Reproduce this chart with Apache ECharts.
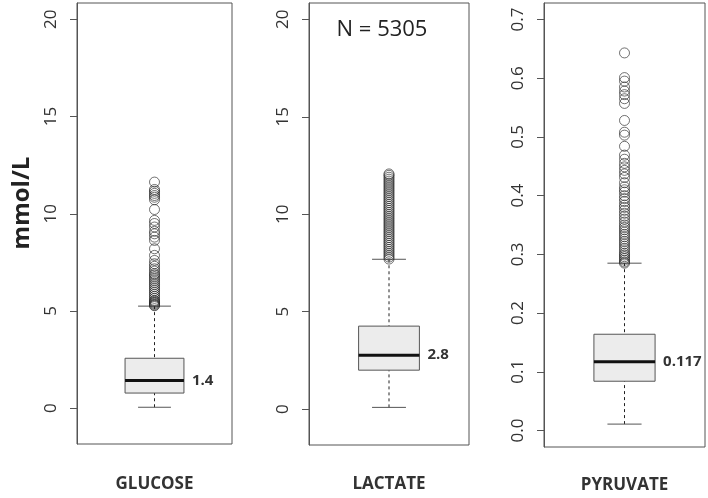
<!DOCTYPE html>
<html><head><meta charset="utf-8">
<script src="https://cdn.jsdelivr.net/npm/echarts@6/dist/echarts.min.js"></script>
<style>html,body{margin:0;padding:0;background:#fff}#c{width:708px;height:498px}</style>
</head><body><div id="c"></div>
<script>
// ---- data ----
const categories = ['GLUCOSE', 'LACTATE', 'PYRUVATE'];
// [min whisker, Q1, median, Q3, max whisker]
const glucoseBox = [0.05, 0.78, 1.42, 2.57, 5.25];
const lactateBox = [0.09, 2.0, 2.77, 4.26, 7.69];
const pyruvateBox = [0.011, 0.084, 0.117, 0.164, 0.285];
const medianLabels = ['1.4', '2.8', '0.117'];
const glucoseOutliers = [11.63, 11.25, 11.16, 11.05, 10.94, 10.85, 10.72, 10.22, 9.66, 9.5, 9.32, 9.1, 8.97, 8.8, 8.63, 8.2, 7.86, 7.6, 7.43, 7.3, 7.17, 7.05, 6.92, 6.85, 6.75, 6.65, 6.55, 6.45, 6.35, 6.25, 6.15, 6.05, 5.95, 5.85, 5.75, 5.65, 5.55, 5.5, 5.45, 5.4, 5.35, 5.3, 5.27];
const lactateOutliers = [7.7, 7.8, 7.9, 8.0, 8.1, 8.2, 8.3, 8.4, 8.5, 8.6, 8.7, 8.8, 8.9, 9.0, 9.1, 9.2, 9.3, 9.4, 9.5, 9.6, 9.7, 9.8, 9.9, 10.0, 10.1, 10.2, 10.3, 10.4, 10.5, 10.6, 10.7, 10.8, 10.9, 11.0, 11.1, 11.2, 11.3, 11.4, 11.5, 11.6, 11.7, 11.8, 11.9, 12.0, 12.07];
const pyruvateOutliers = [0.643, 0.601, 0.595, 0.585, 0.578, 0.572, 0.565, 0.557, 0.528, 0.508, 0.503, 0.484, 0.469, 0.462, 0.455, 0.449, 0.443, 0.437, 0.431, 0.422, 0.415, 0.41, 0.406, 0.4, 0.395, 0.39, 0.384, 0.38, 0.375, 0.37, 0.365, 0.36, 0.355, 0.35, 0.346, 0.342, 0.338, 0.334, 0.33, 0.326, 0.322, 0.318, 0.314, 0.31, 0.306, 0.302, 0.299, 0.296, 0.293, 0.29, 0.287, 0.285];
const concTicks = [0, 5, 10, 15, 20];
const pyruvateTicks = [0.0, 0.1, 0.2, 0.3, 0.4, 0.5, 0.6, 0.7];
const nLabel = 'N = 5305';
const yTitle = 'mmol/L';

const boxes = [glucoseBox, lactateBox, pyruvateBox];
const outliers = [glucoseOutliers, lactateOutliers, pyruvateOutliers];
const ranges = [[-1.84, 20.84], [-1.84, 20.84], [-0.028, 0.728]];
const ticks = [concTicks, concTicks, pyruvateTicks];
const decimals = [0, 0, 1];

const FONT = '"Open Sans", "DejaVu Sans", sans-serif';
const grids = [
  {left: 77, top: 3, width: 155, height: 441},
  {left: 309, top: 3, width: 160, height: 442},
  {left: 544, top: 3, width: 161, height: 444}
];
const nameGaps = [32, 31, 30];

const chart = echarts.init(document.getElementById('c'), null, {renderer: 'canvas'});

function renderBox(params, api) {
  const x = api.value(0);
  const mn = api.value(1), q1 = api.value(2), md = api.value(3), q3 = api.value(4), mx = api.value(5);
  const hw = 0.19, cw = 0.106;
  const pL = api.coord([x - hw, q3]), pR = api.coord([x + hw, q1]);
  const pMd = api.coord([x, md]);
  const pMn = api.coord([x, mn]), pMx = api.coord([x, mx]);
  const pQ1 = api.coord([x, q1]), pQ3 = api.coord([x, q3]);
  const cL = api.coord([x - cw, mn])[0], cR = api.coord([x + cw, mn])[0];
  const lineCol = '#555';
  const idx = params.seriesIndex / 2;
  return {
    type: 'group',
    children: [
      {type: 'line', shape: {x1: pMx[0], y1: pMx[1], x2: pQ3[0], y2: pQ3[1]}, style: {stroke: '#222', lineWidth: 1, lineDash: [3, 3]}},
      {type: 'line', shape: {x1: pMn[0], y1: pMn[1], x2: pQ1[0], y2: pQ1[1]}, style: {stroke: '#222', lineWidth: 1, lineDash: [3, 3]}},
      {type: 'line', shape: {x1: cL, y1: pMx[1], x2: cR, y2: pMx[1]}, style: {stroke: lineCol, lineWidth: 1}},
      {type: 'line', shape: {x1: cL, y1: pMn[1], x2: cR, y2: pMn[1]}, style: {stroke: lineCol, lineWidth: 1}},
      {type: 'rect', shape: {x: pL[0], y: pL[1], width: pR[0] - pL[0], height: pR[1] - pL[1]}, style: {fill: '#ececec', stroke: lineCol, lineWidth: 1}},
      {type: 'line', shape: {x1: pL[0], y1: pMd[1], x2: pR[0], y2: pMd[1]}, style: {stroke: '#111', lineWidth: 3}},
      {type: 'text', x: pR[0] + 8, y: pMd[1], style: {text: medianLabels[idx], fill: '#333', font: 'bold 15px ' + FONT, align: 'left', verticalAlign: 'middle'}}
    ]
  };
}

const xAxes = [], yAxes = [], series = [];
for (let i = 0; i < 3; i++) {
  xAxes.push({
    type: 'value', gridIndex: i, min: 0.5, max: 1.5,
    axisLine: {show: false}, axisTick: {show: false}, axisLabel: {show: false}, splitLine: {show: false},
    name: categories[i], nameLocation: 'middle', nameGap: nameGaps[i],
    nameTextStyle: {fontFamily: FONT, fontWeight: 'bold', fontSize: 17, color: '#333'}
  });
  yAxes.push({
    type: 'value', gridIndex: i, min: ranges[i][0], max: ranges[i][1],
    axisLine: {show: true, lineStyle: {color: '#555', width: 1}},
    axisTick: {show: true, length: 7, customValues: ticks[i], lineStyle: {color: '#555', width: 1}},
    axisLabel: {
      customValues: ticks[i], rotate: 90, margin: 17, fontSize: 17, color: '#333', fontFamily: FONT,
      formatter: (function (d) { return function (v) { return Number(v).toFixed(d); }; })(decimals[i])
    },
    splitLine: {show: false}
  });
  series.push({
    type: 'custom', xAxisIndex: i, yAxisIndex: i, renderItem: renderBox,
    data: [[1].concat(boxes[i])], silent: true, z: 2
  });
  series.push({
    type: 'scatter', xAxisIndex: i, yAxisIndex: i, symbol: 'circle', symbolSize: 10,
    itemStyle: {color: 'rgba(0,0,0,0)', borderColor: '#222', borderWidth: 0.8},
    data: outliers[i].map(function (v) { return [1, v]; }), silent: true, z: 3
  });
}

chart.setOption({
  animation: false,
  backgroundColor: '#fff',
  grid: grids.map(function (g) { return Object.assign({show: true, outerBoundsMode: 'none', containLabel: false, borderColor: '#555', borderWidth: 1, backgroundColor: 'rgba(0,0,0,0)'}, g); }),
  xAxis: xAxes,
  yAxis: yAxes,
  series: series,
  graphic: [
    {type: 'text', x: 382, y: 30, style: {text: nLabel, font: '22px ' + FONT, fill: '#222', align: 'center', verticalAlign: 'middle'}},
    {type: 'text', x: 22, y: 203, rotation: Math.PI / 2, style: {text: yTitle, font: 'bold 24px ' + FONT, fill: '#222', align: 'center', verticalAlign: 'middle'}}
  ]
});
</script>
</body></html>
